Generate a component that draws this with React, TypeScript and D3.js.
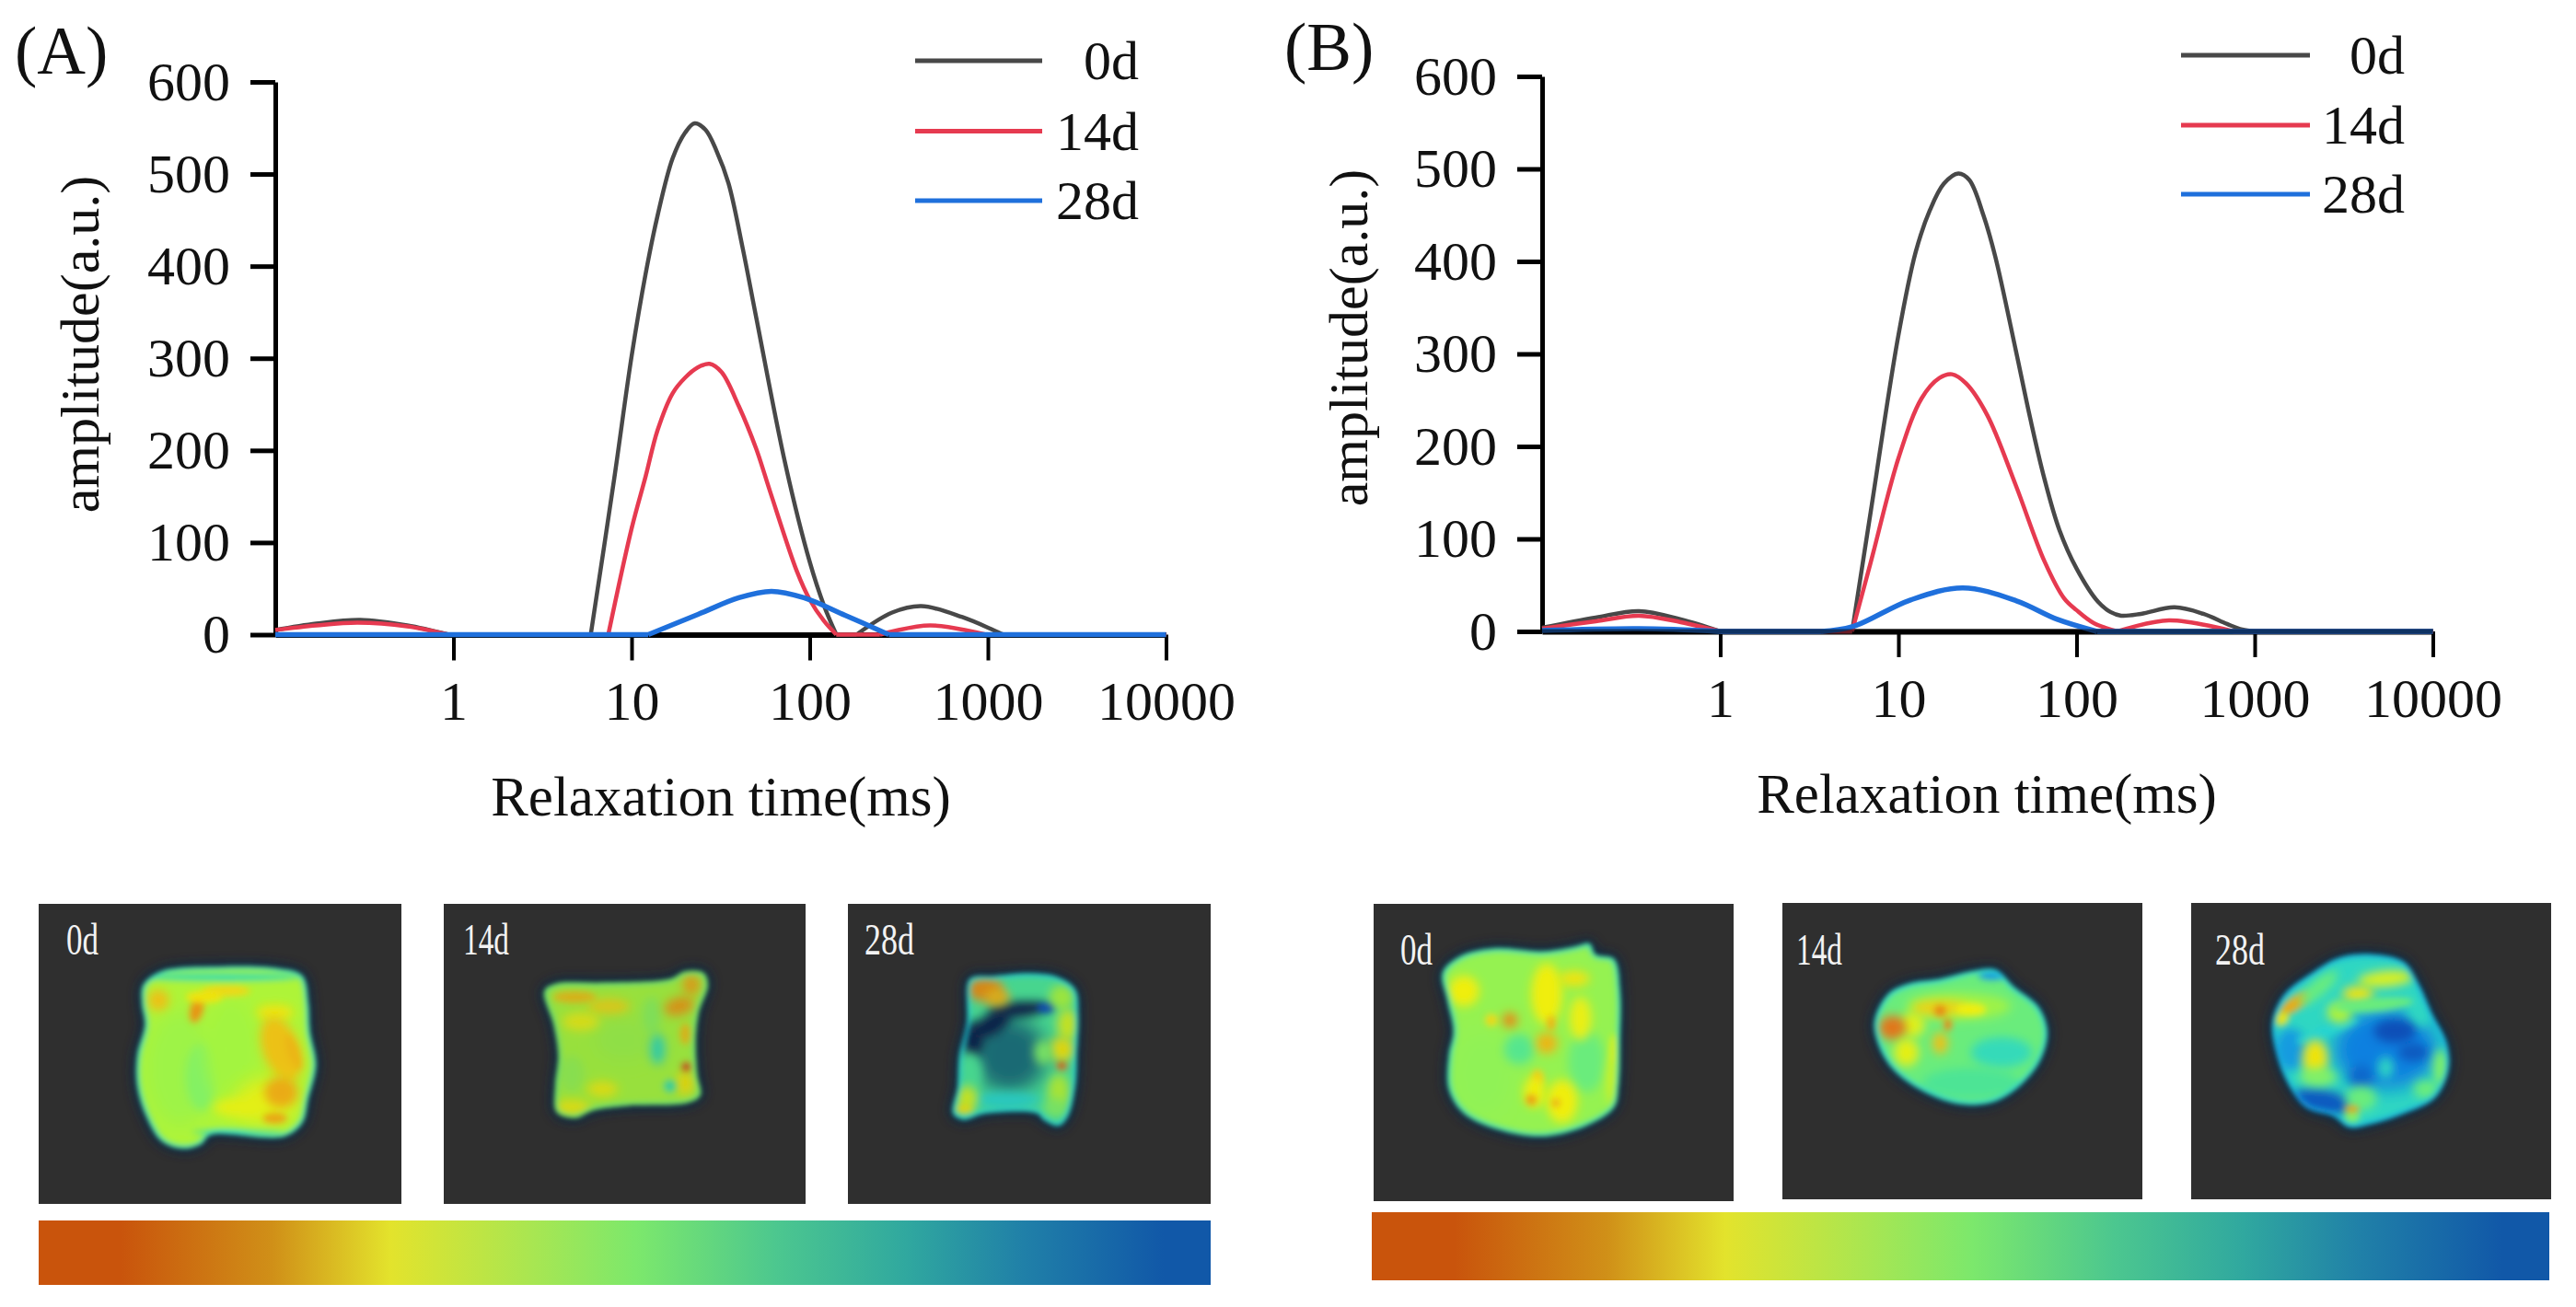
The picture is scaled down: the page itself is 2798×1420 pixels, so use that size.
import React, { useEffect, useRef } from 'react';
import * as d3 from 'd3';

type Pt = [number, number];
// blob spot: x, y, rx, ry, angle, colour value (crop units 1188x990)
type Spot = [number, number, number, number, number, number];

const xTicks = [1, 10, 100, 1000, 10000];
const yTicks = [0, 100, 200, 300, 400, 500, 600];
const days = ['0d', '14d', '28d'];
const seriesColors = ['#484848', '#e63a50', '#1f70dc'];

// Panel A curves, [relaxation time ms, amplitude]
const a0d: Pt[] = [[0.1, 5], [0.17, 12], [0.3, 16], [0.55, 10], [0.94, 0], [5.9, 0], [8, 170], [10, 302], [12, 392], [14, 455], [17, 517], [20, 545], [22.6, 555], [26, 548], [30, 525], [35, 490], [42, 420], [50, 345], [73, 185], [100, 79], [120, 32], [141, 0], [183, 0], [290, 24], [423, 31], [719, 19], [1222, 0], [10000, 0]];
const a14d: Pt[] = [[0.1, 5], [0.17, 10], [0.29, 13], [0.55, 9], [0.94, 0], [7.4, 0], [10, 115], [12, 172], [14, 222], [17, 262], [20, 279], [23.5, 290], [27.4, 294], [32, 285], [40, 248], [50, 202], [60, 155], [85, 68], [100, 38], [120, 15], [141, 0], [248, 0], [473, 10], [977, 0], [10000, 0]];
const a28d: Pt[] = [[0.1, 0], [12.4, 0], [23.6, 22], [40, 40], [61, 47], [92.7, 40], [158, 21], [278, 0], [10000, 0]];

// Panel B curves
const b0d: Pt[] = [[0.1, 4], [0.2, 15], [0.35, 22], [0.6, 13], [1, 0], [5.5, 0], [7, 130], [10, 320], [12.5, 410], [15, 455], [18, 484], [21.7, 495], [25, 488], [30, 450], [35, 405], [45.6, 304], [55, 230], [66, 165], [80, 110], [100, 68], [132, 32], [155, 21], [178, 17], [230, 19], [355, 26], [515, 19], [700, 8], [850, 2], [1000, 0], [10000, 0]];
const b14d: Pt[] = [[0.1, 3], [0.2, 11], [0.35, 17], [0.6, 10], [1, 0], [5.5, 0], [7, 75], [10, 187], [13.5, 252], [17, 274], [20, 278], [24, 268], [31.5, 234], [45.6, 158], [66, 76], [85, 36], [100, 23], [125, 9], [170, 0], [330, 12], [760, 0], [10000, 0]];
const b28d: Pt[] = [[0.1, 1], [0.35, 3], [1, 0], [3.7, 0], [5.5, 5], [11.7, 34], [23, 47], [46, 33], [78, 13], [130, 0], [10000, 0]];

// Image colour bar and the false colour used inside the sample images
const barStops = [0, 0.07, 0.2, 0.3, 0.42, 0.51, 0.63, 0.74, 0.84, 0.96, 1];
const barColors = ['#c9540c', '#c9540c', '#d09018', '#e3e32c', '#a9e651', '#7ce86c', '#4cc78f', '#30a89f', '#2080a8', '#1158a8', '#1158a8'];
const spotStops = [0, 0.15, 0.3, 0.42, 0.52, 0.65, 0.78, 0.9, 1, 1.12, 1.3];
const spotColors = ['#d8501c', '#e89a18', '#f0ee10', '#a8f43c', '#78f070', '#40e0a0', '#20d0e0', '#1080e0', '#0a50b8', '#10204a', '#1c6f78'];

// Sample outlines and spots, in crop units
const outlineA0: Pt[] = [[340, 270], [400, 225], [560, 210], [780, 215], [860, 240], [880, 330], [885, 420], [905, 530], [880, 640], [860, 720], [800, 765], [560, 760], [530, 790], [470, 805], [400, 780], [350, 700], [320, 600], [320, 500], [345, 400], [335, 330]];
const spotsA0: Spot[] = [[460, 540, 110, 190, 0, 0.44], [530, 570, 50, 110, 0, 0.5], [630, 480, 90, 170, 0, 0.43], [600, 245, 250, 12, 0, 0.68], [650, 750, 150, 8, 0, 0.65], [390, 320, 35, 35, -30, 0.22], [515, 350, 22, 45, 15, 0.14], [610, 290, 80, 18, 0, 0.26], [540, 310, 60, 20, 0, 0.28], [770, 360, 60, 25, 0, 0.28], [790, 480, 60, 110, -20, 0.22], [830, 490, 20, 60, -20, 0.2], [740, 650, 100, 70, 0, 0.32], [790, 620, 55, 50, 0, 0.18], [650, 670, 80, 30, 0, 0.32], [770, 705, 40, 18, 0, 0.17]];
const outlineA1: Pt[] = [[330, 290], [370, 265], [520, 262], [740, 250], [790, 225], [850, 230], [865, 270], [835, 360], [825, 450], [830, 560], [840, 630], [800, 655], [600, 665], [490, 680], [430, 705], [370, 685], [365, 600], [375, 500], [360, 400]];
const spotsA1: Spot[] = [[590, 450, 100, 70, 0, 0.44], [420, 560, 40, 60, 0, 0.46], [430, 310, 70, 20, 0, 0.22], [540, 340, 70, 25, 0, 0.26], [450, 390, 60, 30, 0, 0.31], [680, 370, 30, 60, 0, 0.48], [770, 340, 50, 30, -15, 0.16], [810, 270, 30, 35, 0, 0.18], [790, 430, 18, 35, 0, 0.22], [790, 590, 30, 40, 0, 0.28], [793, 537, 16, 16, 0, 0], [700, 480, 25, 50, 0, 0.68], [740, 600, 20, 20, 0, 0.66], [520, 610, 50, 25, 0, 0.3], [420, 670, 60, 25, 0, 0.3]];
const outlineA2: Pt[] = [[400, 250], [480, 240], [600, 232], [690, 245], [745, 285], [755, 370], [750, 500], [745, 600], [720, 700], [690, 730], [640, 710], [620, 690], [450, 690], [380, 710], [345, 690], [360, 600], [365, 500], [390, 390]];
const spotsA2: Spot[] = [[530, 500, 120, 120, 0, 1.3], [410, 450, 35, 60, 0, 1.12], [560, 350, 100, 26, -5, 1.12], [470, 400, 70, 34, -30, 1.12], [650, 345, 30, 18, 0, 1], [450, 285, 60, 40, 0, 0.13], [490, 310, 40, 30, 0, 0.2], [590, 265, 70, 28, 0, 0.62], [700, 310, 40, 40, 0, 0.42], [720, 400, 35, 50, 0, 0.35], [700, 480, 40, 40, 0, 0.28], [640, 490, 30, 40, 0, 0.5], [700, 535, 18, 15, 0, 0.05], [690, 620, 35, 60, 0, 0.4], [680, 670, 40, 30, 0, 0.5], [520, 645, 110, 25, 0, 0.74], [400, 560, 40, 70, 0, 0.62], [390, 640, 35, 40, 0, 0.35], [380, 675, 30, 15, 0, 0.28]];
const outlineB0: Pt[] = [[230, 230], [290, 175], [400, 150], [560, 160], [660, 145], [710, 135], [730, 170], [790, 185], [810, 290], [810, 450], [805, 600], [790, 670], [700, 730], [560, 765], [420, 745], [300, 690], [250, 610], [250, 500], [265, 420], [245, 320]];
const spotsB0: Spot[] = [[360, 560, 90, 130, 0, 0.47], [480, 480, 50, 50, 0, 0.6], [700, 520, 60, 100, 0, 0.55], [300, 290, 50, 50, 20, 0.3], [570, 300, 50, 100, 0, 0.3], [660, 250, 50, 25, 0, 0.28], [680, 380, 35, 70, 0, 0.31], [570, 460, 35, 35, 0, 0.2], [585, 395, 15, 25, 0, 0.2], [450, 385, 25, 25, 0, 0.12], [390, 385, 20, 20, 0, 0.26], [540, 575, 20, 30, 0, 0.24], [530, 620, 35, 50, 0, 0.3], [620, 650, 50, 70, 0, 0.3], [520, 645, 18, 18, 0, 0.16], [600, 655, 15, 15, 0, 0.2], [790, 580, 25, 90, 0, 0.36], [790, 480, 15, 50, 0, 0.34]];
const outlineB1: Pt[] = [[305, 390], [350, 300], [420, 265], [520, 250], [620, 225], [700, 220], [760, 275], [840, 340], [870, 420], [850, 510], [790, 590], [700, 650], [590, 660], [470, 620], [370, 550], [320, 470]];
const spotsB1: Spot[] = [[580, 340, 170, 45, 0, 0.44], [720, 490, 100, 50, 0, 0.7], [620, 590, 160, 50, 0, 0.62], [690, 240, 45, 15, 0, 0.86], [430, 400, 40, 40, 0, 0.33], [365, 410, 45, 40, 0, 0.08], [410, 490, 40, 45, 0, 0.32], [520, 345, 90, 25, 0, 0.25], [520, 355, 20, 20, 0, 0.12], [545, 400, 14, 20, 0, 0.12], [520, 460, 25, 35, 0, 0.22], [620, 350, 50, 20, 0, 0.3]];
const outlineB2: Pt[] = [[270, 390], [310, 300], [400, 230], [490, 180], [600, 170], [700, 195], [750, 270], [790, 360], [840, 460], [845, 550], [800, 640], [700, 690], [590, 725], [520, 735], [470, 700], [380, 670], [320, 590], [285, 500]];
const spotsB2: Spot[] = [[640, 480, 170, 130, 0, 0.9], [330, 480, 50, 70, 0, 0.86], [430, 650, 100, 40, 10, 0.98], [450, 420, 110, 18, -20, 0.75], [750, 350, 40, 60, 0, 0.72], [670, 420, 70, 40, 0, 1], [730, 490, 50, 30, 0, 0.98], [560, 570, 40, 40, 0, 0.95], [345, 330, 60, 22, -35, 0.18], [300, 380, 25, 20, -35, 0.28], [550, 300, 50, 25, 0, 0.28], [640, 250, 90, 25, -5, 0.33], [490, 360, 40, 35, 0, 0.4], [600, 335, 130, 22, -5, 0.55], [420, 280, 80, 25, -40, 0.55], [410, 510, 40, 60, 0, 0.28], [420, 570, 60, 30, 0, 0.5], [640, 540, 25, 35, 0, 0.72], [560, 640, 50, 40, 0, 0.55], [530, 700, 25, 20, 0, 0.5], [530, 675, 25, 12, 0, 0.18], [820, 540, 25, 60, 0, 0.5], [770, 610, 40, 30, 0, 0.55]];

const SERIF = "'Liberation Serif', 'Times New Roman', serif";

const plots = [
    { id: 'A', axisX: 299, top: 89, base: 689.5, curves: [a0d, a14d, a28d], labelX: 16, labelY: 80, xLabelX: 783, xLabelY: 886, yLabelX: 107, yLabelY: 374, tickY: 782, legX: 994, legEnd: 1132, legText: 1237, legY: [66, 142.6, 218], darkBase: false },
    { id: 'B', axisX: 1675, top: 83, base: 686, curves: [b0d, b14d, b28d], labelX: 1395, labelY: 76, xLabelX: 2158, xLabelY: 883, yLabelX: 1485, yLabelY: 367, tickY: 779, legX: 2369, legEnd: 2509, legText: 2612, legY: [60, 136, 211], darkBase: true },
];

const samples = [
    { x: 42, y: 982, w: 394, h: 326, cropX: 42, label: '0d', tx: 72, ty: 1037, tw: 35, outline: outlineA0, spots: spotsA0, fill: 0.41, rim: 0.76, fade: 1 },
    { x: 482, y: 982, w: 393, h: 326, cropX: 481, label: '14d', tx: 503, ty: 1037, tw: 50, outline: outlineA1, spots: spotsA1, fill: 0.42, rim: 0.58, fade: 0.9 },
    { x: 921, y: 982, w: 394, h: 326, cropX: 920, label: '28d', tx: 939, ty: 1037, tw: 54, outline: outlineA2, spots: spotsA2, fill: 0.62, rim: 0.78, fade: 0.92 },
    { x: 1492, y: 982, w: 391, h: 323, cropX: 1490, label: '0d', tx: 1521, ty: 1048, tw: 35, outline: outlineB0, spots: spotsB0, fill: 0.46, rim: 0.74, fade: 1 },
    { x: 1936, y: 981, w: 391, h: 322, cropX: 1934, label: '14d', tx: 1951, ty: 1048, tw: 50, outline: outlineB1, spots: spotsB1, fill: 0.55, rim: 0.78, fade: 1 },
    { x: 2380, y: 981, w: 391, h: 322, cropX: 2378, label: '28d', tx: 2406, ty: 1048, tw: 54, outline: outlineB2, spots: spotsB2, fill: 0.72, rim: 0.84, fade: 1 },
];

const colorBars = [
    { x: 42, y: 1326, w: 1273, h: 70 },
    { x: 1490, y: 1317, w: 1279, h: 74 },
];

// Zero stretches stay straight, each hump gets its own smooth piece
const splitHumps = (c: Pt[]): Pt[][] => {
    const parts: Pt[][] = [];
    let run: Pt[] = [c[0]];
    for (let i = 1; i < c.length; i++) {
        run.push(c[i]);
        if (c[i][1] === 0) {
            parts.push(run);
            run = [c[i]];
        }
    }
    if (run.length > 1) parts.push(run);
    return parts;
};

const App: React.FC = () => {
    const svgRef = useRef<SVGSVGElement>(null);

    useEffect(() => {
        if (!svgRef.current) return;
        const svg = d3.select(svgRef.current);
        svg.selectAll('*').remove();

        const defs = svg.append('defs');
        [['softEdge', 2.5], ['softHalo', 6], ['softRim', 2.5], ['softSmall', 2.5], ['softSpot', 5], ['softWide', 10]].forEach(([id, dev]) => {
            defs.append('filter')
                .attr('id', id as string)
                .attr('x', '-200%').attr('y', '-200%').attr('width', '500%').attr('height', '500%')
                .append('feGaussianBlur')
                .attr('stdDeviation', dev as number);
        });

        const barColor = d3.scaleLinear<string>().domain(barStops).range(barColors);
        const spotColor = d3.scaleLinear<string>().domain(spotStops).range(spotColors);

        const barGrad = defs.append('linearGradient').attr('id', 'barGrad');
        barStops.forEach(s => {
            barGrad.append('stop')
                .attr('offset', `${s * 100}%`)
                .attr('stop-color', barColor(s));
        });

        // Relaxation plots
        plots.forEach(p => {
            const x = d3.scaleLog().domain([0.1, 10000]).range([p.axisX, p.axisX + 967.5]);
            const y = d3.scaleLinear().domain([0, 600]).range([p.base, p.top]);
            const g = svg.append('g').attr('font-family', SERIF).attr('fill', '#111');

            const yAxis = g.append('g')
                .attr('transform', `translate(${p.axisX},0)`)
                .call(d3.axisLeft(y).tickValues(yTicks).tickSize(27).tickSizeOuter(0).tickPadding(22).tickFormat(d => String(d)));
            yAxis.select('.domain').attr('stroke', '#000').attr('stroke-width', 5);
            yAxis.selectAll('.tick line').attr('stroke', '#000').attr('stroke-width', 5);
            yAxis.selectAll('.tick text')
                .attr('font-family', SERIF).attr('font-size', 60).attr('fill', '#111')
                .attr('dy', '0.32em');

            const xAxis = g.append('g')
                .attr('transform', `translate(0,${p.base})`)
                .call(d3.axisBottom(x).tickValues(xTicks).tickSize(28).tickSizeOuter(0).tickPadding(0).tickFormat(d => String(d)));
            xAxis.select('.domain').attr('stroke', '#000').attr('stroke-width', 6);
            xAxis.selectAll('.tick line').attr('stroke', '#000').attr('stroke-width', 4);
            xAxis.selectAll('.tick text')
                .attr('font-family', SERIF).attr('font-size', 60).attr('fill', '#111')
                .attr('y', p.tickY - p.base).attr('dy', 0);

            const line = d3.line<Pt>()
                .x(d => x(d[0]))
                .y(d => y(d[1]))
                .curve(d3.curveCatmullRom.alpha(0.5));

            p.curves.forEach((c, i) => {
                g.append('path')
                    .attr('d', splitHumps(c).map(part => line(part)).join(''))
                    .attr('fill', 'none')
                    .attr('stroke', seriesColors[i])
                    .attr('stroke-width', i === 2 ? 5.5 : 4.5)
                    .attr('stroke-linejoin', 'round');
            });

            // B's zero line reads darker, the axis shows through it
            if (p.darkBase) {
                g.append('line')
                    .attr('x1', p.axisX).attr('x2', p.axisX + 967.5)
                    .attr('y1', p.base).attr('y2', p.base)
                    .attr('stroke', '#000').attr('stroke-opacity', 0.55).attr('stroke-width', 5);
            }

            g.append('text').attr('x', p.labelX).attr('y', p.labelY)
                .attr('font-size', 73).text(`(${p.id})`);
            g.append('text').attr('x', p.xLabelX).attr('y', p.xLabelY)
                .attr('font-size', 61).attr('text-anchor', 'middle').text('Relaxation time(ms)');
            g.append('text')
                .attr('transform', `translate(${p.yLabelX},${p.yLabelY}) rotate(-90)`)
                .attr('font-size', 60).attr('text-anchor', 'middle').text('amplitude(a.u.)');

            days.forEach((d, i) => {
                g.append('line')
                    .attr('x1', p.legX).attr('x2', p.legEnd)
                    .attr('y1', p.legY[i]).attr('y2', p.legY[i])
                    .attr('stroke', seriesColors[i]).attr('stroke-width', 5);
                g.append('text')
                    .attr('x', p.legText).attr('y', p.legY[i] + 20)
                    .attr('font-size', 60).attr('text-anchor', 'end').text(d);
            });
        });

        // Sample images
        samples.forEach((s, idx) => {
            const sx = d3.scaleLinear().domain([0, 1188]).range([s.cropX, s.cropX + 396]);
            const sy = d3.scaleLinear().domain([0, 990]).range([980, 1310]);
            const outline = d3.line<Pt>()
                .x(d => sx(d[0]))
                .y(d => sy(d[1]))
                .curve(d3.curveCatmullRomClosed.alpha(0.5))(s.outline) as string;

            const clipId = `sampleClip${idx}`;
            defs.append('clipPath').attr('id', clipId).append('path').attr('d', outline);

            const g = svg.append('g');
            g.append('rect')
                .attr('x', s.x).attr('y', s.y).attr('width', s.w).attr('height', s.h)
                .attr('fill', '#2f2f2f');

            g.append('path').attr('d', outline)
                .attr('fill', '#06284e').attr('stroke', '#06284e').attr('stroke-width', 8)
                .attr('opacity', 0.75).attr('filter', 'url(#softHalo)');

            const body = g.append('g').attr('filter', 'url(#softEdge)').attr('opacity', s.fade)
                .append('g').attr('clip-path', `url(#${clipId})`);
            body.append('path').attr('d', outline).attr('fill', spotColor(s.fill));
            body.selectAll('ellipse')
                .data(s.spots)
                .enter()
                .append('ellipse')
                .attr('cx', d => sx(d[0]))
                .attr('cy', d => sy(d[1]))
                .attr('rx', d => d[2] / 3)
                .attr('ry', d => d[3] / 3)
                .attr('transform', d => `rotate(${d[4]} ${sx(d[0])} ${sy(d[1])})`)
                .attr('fill', d => spotColor(d[5]))
                .attr('filter', d => {
                    const r = Math.min(d[2], d[3]);
                    return r < 24 ? 'url(#softSmall)' : r < 70 ? 'url(#softSpot)' : 'url(#softWide)';
                });
            body.append('path').attr('d', outline)
                .attr('fill', 'none')
                .attr('stroke', spotColor(s.rim))
                .attr('stroke-width', 6)
                .attr('filter', 'url(#softRim)');

            g.append('text')
                .attr('x', s.tx).attr('y', s.ty)
                .attr('font-family', SERIF).attr('font-size', 48).attr('fill', '#f2f2f2')
                .attr('textLength', s.tw).attr('lengthAdjust', 'spacingAndGlyphs')
                .text(s.label);
        });

        colorBars.forEach(b => {
            svg.append('rect')
                .attr('x', b.x).attr('y', b.y).attr('width', b.w).attr('height', b.h)
                .attr('fill', 'url(#barGrad)');
        });
    }, []);

    return (
        <svg
            ref={svgRef}
            width={2798}
            height={1420}
            style={{ position: 'absolute', left: 0, top: 0, background: '#fff' }}
        />
    );
};

export default App;
